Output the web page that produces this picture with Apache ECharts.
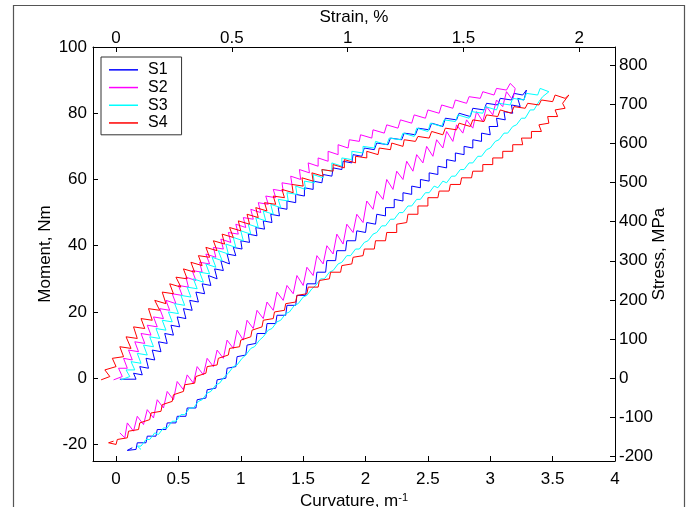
<!DOCTYPE html>
<html>
<head>
<meta charset="utf-8">
<script src="https://cdn.jsdelivr.net/npm/echarts@6/dist/echarts.min.js"></script>
<style>
html,body{margin:0;padding:0;background:#fff;}
#chart{width:688px;height:507px;}
</style>
</head>
<body>
<div id="chart"></div>
<script>
// ---- data ----
const seriesNames = ['S1', 'S2', 'S3', 'S4'];
const seriesColors = ['#0000ff', '#ff00ff', '#00ffff', '#ff0000'];

const curvatureTicks = [0, 0.5, 1, 1.5, 2, 2.5, 3, 3.5, 4];
const strainTicks = [0, 0.5, 1, 1.5, 2];
const momentTicks = [-20, 0, 20, 40, 60, 80, 100];
const stressTicks = [-200, -100, 0, 100, 200, 300, 400, 500, 600, 700, 800];

const curvatureRange = [-0.185, 4];
const momentRange = [-25, 100];
const strainPerCurvature = 0.5386;
const stressPerMoment = 8.46;

// S1 (blue): loading branch, then unloading branch  [curvature, moment]
const s1Upper = [[0.03,-0.3],[0.16,-0.3],[0.14,1.5],[0.21,1],[0.19,3.5],[0.26,3],[0.24,6],[0.31,5.5],[0.29,8.5],[0.36,8],[0.34,11],[0.41,10.5],[0.39,13.5],[0.46,13],[0.44,16],[0.51,15.5],[0.49,18.5],[0.56,18],[0.54,21],[0.61,20.5],[0.59,23.5],[0.66,23],[0.64,26],[0.71,25.5],[0.69,28.5],[0.76,28],[0.74,31],[0.81,30],[0.79,33],[0.86,32.5],[0.84,35.5],[0.91,34.5],[0.89,37.5],[0.96,37],[0.94,39.5],[1.01,39],[1.0,41.5],[1.07,41],[1.06,43.5],[1.13,43],[1.12,45.5],[1.19,45],[1.18,47.5],[1.25,47],[1.24,49.5],[1.31,49],[1.3,51.5],[1.37,51],[1.37,53.5],[1.44,53],[1.44,55.5],[1.51,55],[1.51,57.5],[1.58,57],[1.58,59.5],[1.65,59],[1.66,61.5],[1.73,61],[1.74,63.5],[1.81,63],[1.82,65.5],[1.89,65],[1.9,67.5],[1.97,67],[1.99,69.5],[2.07,69],[2.09,71],[2.18,70.5],[2.2,72.5],[2.29,72],[2.31,74],[2.4,73.5],[2.42,75.5],[2.51,75],[2.53,77],[2.62,76],[2.64,78.5],[2.73,78],[2.75,80],[2.84,79],[2.86,81.5],[2.95,81],[2.97,83],[3.06,82.5],[3.08,84.5],[3.17,84],[3.19,86],[3.26,85.5],[3.29,87]];
const s1Lower = [[3.27,84],[3.22,84.5],[3.24,82],[3.17,82.5],[3.18,80],[3.11,80.5],[3.12,78],[3.05,78.5],[3.06,76],[2.99,76],[3.0,73.5],[2.93,74],[2.93,71.5],[2.86,72],[2.86,69.5],[2.79,70],[2.79,67.5],[2.72,68],[2.72,65.5],[2.65,66],[2.65,63.5],[2.58,64],[2.58,61.5],[2.51,62],[2.51,59.5],[2.44,60],[2.44,57.5],[2.37,58],[2.37,55.5],[2.3,56],[2.3,53.5],[2.23,54],[2.23,51.5],[2.16,51.5],[2.16,49],[2.09,49.5],[2.08,46.5],[2.01,47],[2.0,44],[1.93,44.5],[1.92,41.5],[1.85,41.5],[1.84,38.5],[1.77,38.5],[1.76,35.5],[1.69,35.5],[1.68,32],[1.61,32],[1.6,28.5],[1.53,28.5],[1.52,25],[1.45,25],[1.44,22],[1.37,22],[1.36,19],[1.29,19],[1.28,16.5],[1.21,16.5],[1.2,13.5],[1.13,13.5],[1.12,10.5],[1.05,10],[1.04,7],[0.97,6.5],[0.96,3.5],[0.89,3],[0.88,0],[0.81,-0.5],[0.8,-3],[0.73,-3.5],[0.72,-6],[0.65,-6.5],[0.64,-9],[0.57,-9],[0.56,-11.5],[0.49,-11.5],[0.48,-13.5],[0.41,-13.5],[0.4,-15.5],[0.33,-15.5],[0.32,-17.5],[0.25,-17.5],[0.24,-19.5],[0.17,-19.5],[0.16,-21.5],[0.09,-21.8],[0.13,-21]];

// S2 (magenta)
const s2Upper = [[-0.02,-0.5],[0.05,0.5],[0.02,3],[0.09,3],[0.06,6],[0.13,5.5],[0.1,8.5],[0.18,8],[0.15,11],[0.23,10.5],[0.2,13.5],[0.28,13],[0.25,16],[0.33,15.5],[0.3,18.5],[0.38,18],[0.35,21],[0.43,20.5],[0.4,23.5],[0.48,22.5],[0.45,25.5],[0.53,25],[0.5,28],[0.58,27.5],[0.56,30.5],[0.64,29.5],[0.61,32.5],[0.69,32],[0.67,35],[0.75,34.5],[0.72,37.5],[0.8,36.5],[0.78,39.5],[0.86,39],[0.84,42],[0.92,41],[0.9,44],[0.98,43.5],[0.96,46.5],[1.04,45.5],[1.02,48.5],[1.1,48],[1.08,51],[1.16,50],[1.14,53],[1.22,52.5],[1.2,55],[1.28,54.5],[1.26,57],[1.34,56.5],[1.33,59],[1.41,58.5],[1.4,61],[1.48,60],[1.47,63],[1.55,62],[1.54,65],[1.62,64],[1.62,66.5],[1.7,65.5],[1.7,68.5],[1.78,67.5],[1.78,70.5],[1.86,69.5],[1.87,72],[1.95,71.5],[1.96,73.5],[2.05,72.5],[2.06,75],[2.15,74],[2.17,76.5],[2.26,75.5],[2.28,78],[2.37,77],[2.39,79.5],[2.48,78.5],[2.5,81],[2.59,80],[2.61,82.5],[2.7,81.5],[2.72,84],[2.81,83],[2.83,85],[2.92,84.5],[2.94,86.5],[3.03,85.5],[3.05,87.5],[3.13,87],[3.16,89],[3.2,87.5]];
const s2Lower = [[3.18,84],[3.13,86.5],[3.1,82],[3.05,84],[3.02,79.5],[2.97,82],[2.94,77.5],[2.89,80.5],[2.86,75.5],[2.81,78],[2.78,74],[2.73,76.5],[2.7,71.5],[2.65,74.5],[2.62,69.5],[2.57,72],[2.54,67],[2.49,70],[2.46,65],[2.41,67.5],[2.38,62.5],[2.33,65.5],[2.3,60],[2.25,62.5],[2.22,57],[2.17,60],[2.14,54],[2.09,56.5],[2.06,51],[2.01,53.5],[1.98,47],[1.93,49.5],[1.9,44],[1.85,46.5],[1.82,40.5],[1.77,43.5],[1.74,37.5],[1.69,40],[1.66,34.5],[1.61,37],[1.58,31],[1.53,33.5],[1.5,28],[1.45,31],[1.42,25.5],[1.37,28],[1.34,23.5],[1.29,26],[1.26,20.5],[1.21,23],[1.18,18],[1.13,20.5],[1.1,15],[1.05,17.5],[1.02,11.5],[0.97,14.5],[0.94,9],[0.89,11.5],[0.86,6],[0.81,8.5],[0.78,3.5],[0.73,6],[0.7,1],[0.65,3.5],[0.62,-1.5],[0.57,1],[0.54,-3.5],[0.49,-1],[0.46,-6.5],[0.41,-4],[0.38,-9],[0.33,-6.5],[0.3,-12],[0.25,-9.5],[0.22,-14],[0.17,-11.5],[0.14,-16],[0.09,-13.5],[0.07,-18],[0.03,-16.5]];

// S3 (cyan)
const s3Upper = [[0.04,-0.5],[0.11,0.5],[0.08,2.5],[0.15,2.5],[0.12,5],[0.2,4.5],[0.17,7.5],[0.25,7],[0.22,10],[0.3,9.5],[0.27,12.5],[0.35,12],[0.32,15],[0.4,14.5],[0.37,17.5],[0.45,17],[0.42,20],[0.5,19.5],[0.47,22.5],[0.55,22],[0.52,25],[0.6,24.5],[0.57,27.5],[0.65,27],[0.62,30],[0.7,29],[0.67,32],[0.75,31.5],[0.72,34.5],[0.8,33.5],[0.77,36.5],[0.85,35.5],[0.82,38.5],[0.9,37.5],[0.88,40.5],[0.96,39.5],[0.94,42.5],[1.02,41.5],[1.0,44.5],[1.08,43.5],[1.06,46.5],[1.14,45.5],[1.12,48.5],[1.2,47.5],[1.18,50.5],[1.26,49.5],[1.24,52.5],[1.32,51.5],[1.3,54],[1.38,53.5],[1.37,56],[1.45,55.5],[1.44,58],[1.52,57],[1.51,59.5],[1.59,59],[1.58,61.5],[1.66,60.5],[1.65,63],[1.73,62.5],[1.73,65],[1.81,64],[1.81,66.5],[1.89,66],[1.89,68.5],[1.98,68],[1.98,70],[2.07,69.5],[2.08,71.5],[2.17,70.5],[2.19,72.5],[2.28,72],[2.3,74],[2.39,73],[2.41,75.5],[2.5,74.5],[2.52,77],[2.61,76],[2.63,78],[2.72,77.5],[2.74,79.5],[2.83,78.5],[2.85,80.5],[2.94,80],[2.96,82],[3.05,81],[3.07,83],[3.16,82.5],[3.18,84.5],[3.27,84],[3.29,86],[3.38,85.5],[3.4,87.5],[3.47,86.5]];
const s3Lower = [[3.46,87],[3.42,85],[3.39,83.5],[3.35,81],[3.32,81],[3.28,78.5],[3.25,78.5],[3.21,76.5],[3.18,76],[3.14,74],[3.11,74],[3.07,72],[3.04,71.5],[3.0,69.5],[2.97,69],[2.93,67],[2.9,67],[2.86,65],[2.83,65],[2.79,63],[2.76,63],[2.72,61],[2.69,61],[2.65,59],[2.62,59.5],[2.58,57.5],[2.55,58],[2.51,56],[2.48,56],[2.44,54],[2.41,54],[2.37,52],[2.34,52],[2.3,50],[2.27,50],[2.23,48],[2.2,48],[2.16,46],[2.13,46],[2.09,44],[2.06,43.5],[2.02,41.5],[1.99,41],[1.95,39],[1.92,39],[1.88,37],[1.85,37],[1.81,35],[1.78,34.5],[1.74,32.5],[1.71,32],[1.67,30],[1.64,30],[1.6,28],[1.57,27],[1.53,25],[1.5,24.5],[1.46,22.5],[1.43,22],[1.39,20],[1.36,19.5],[1.32,17.5],[1.29,17],[1.25,15],[1.22,14.5],[1.18,12.5],[1.15,11.5],[1.11,9.5],[1.08,9],[1.04,7],[1.01,6],[0.97,4],[0.94,3.5],[0.9,1.5],[0.87,0.5],[0.83,-1.5],[0.8,-2],[0.76,-4],[0.73,-4.5],[0.69,-6.5],[0.66,-7],[0.62,-9],[0.59,-9],[0.55,-11],[0.52,-11],[0.48,-13],[0.45,-13],[0.41,-15],[0.38,-15],[0.34,-17],[0.31,-16.5],[0.27,-18.5],[0.24,-18.5],[0.2,-20.5],[0.17,-20.5],[0.2,-21.5]];

// S4 (red)
const s4Upper = [[-0.12,-0.5],[-0.05,0.5],[-0.09,2.5],[0.0,3.5],[-0.03,6],[0.06,6.5],[0.03,9.5],[0.12,9],[0.08,12.5],[0.17,12],[0.14,15.5],[0.23,15],[0.2,18],[0.29,17.5],[0.26,21],[0.35,20.5],[0.31,23.5],[0.4,22.5],[0.37,26],[0.46,25.5],[0.43,28.5],[0.52,27.5],[0.48,30.5],[0.57,30],[0.54,33],[0.63,32],[0.6,35],[0.69,34],[0.66,37],[0.75,36.5],[0.72,39.5],[0.81,38.5],[0.78,41.5],[0.87,40.5],[0.85,43.5],[0.94,42.5],[0.91,45.5],[1.0,44.5],[0.98,47.5],[1.07,46.5],[1.05,49.5],[1.14,48.5],[1.12,51.5],[1.21,50.5],[1.19,53],[1.28,52.5],[1.26,55],[1.35,54.5],[1.33,57],[1.42,56],[1.41,58.5],[1.5,58],[1.49,60.5],[1.58,59.5],[1.57,62],[1.66,61],[1.65,63],[1.74,62.5],[1.74,64.5],[1.83,63.5],[1.83,66],[1.92,65],[1.92,67],[2.01,66.5],[2.01,68.5],[2.1,67.5],[2.11,69.5],[2.2,69],[2.21,71],[2.3,70],[2.31,72],[2.4,71.5],[2.42,73],[2.51,72.5],[2.53,74.5],[2.62,73.5],[2.64,75.5],[2.73,75],[2.75,77],[2.84,76],[2.86,78],[2.95,77.5],[2.97,79.5],[3.06,79],[3.08,81],[3.17,80],[3.19,82],[3.28,81.5],[3.3,83],[3.39,82.5],[3.41,84],[3.5,83.5],[3.52,85.5],[3.6,84.5],[3.63,85.5]];
const s4Lower = [[3.58,83],[3.6,81.5],[3.52,81],[3.54,79],[3.46,79],[3.47,77],[3.39,76.5],[3.41,74.5],[3.33,74.5],[3.33,72.5],[3.25,72.5],[3.26,70.5],[3.18,70.5],[3.18,68.5],[3.1,68.5],[3.1,66.5],[3.02,66.5],[3.02,64.5],[2.94,64.5],[2.94,62.5],[2.86,62.5],[2.85,60.5],[2.77,60.5],[2.76,58.5],[2.68,58.5],[2.67,56.5],[2.59,56.5],[2.58,54.5],[2.5,54.5],[2.5,52],[2.42,52],[2.42,49.5],[2.34,49.5],[2.33,47],[2.25,46.5],[2.25,44],[2.17,44],[2.16,41.5],[2.08,41.5],[2.07,39],[1.99,39],[1.98,37],[1.9,36.5],[1.89,34.5],[1.81,34],[1.8,32],[1.72,32],[1.71,30],[1.63,29.5],[1.62,27.5],[1.54,27.5],[1.53,25.5],[1.45,25],[1.44,23],[1.36,22.5],[1.35,20.5],[1.27,20],[1.26,18],[1.18,17.5],[1.17,15.5],[1.09,14.5],[1.08,12.5],[1.0,11.5],[0.99,9.5],[0.91,9],[0.9,7],[0.82,6],[0.81,4],[0.73,3.5],[0.72,1.5],[0.64,0.5],[0.63,-1.5],[0.55,-2],[0.54,-4],[0.46,-5],[0.45,-7],[0.37,-8],[0.36,-10],[0.28,-10.5],[0.27,-12.5],[0.19,-13.5],[0.18,-15.5],[0.1,-16],[0.09,-18],[0.01,-18.5],[0.0,-20],[-0.06,-19.5],[-0.02,-19]];

const loops = [s1Upper.concat(s1Lower), s2Upper.concat(s2Lower), s3Upper.concat(s3Lower), s4Upper.concat(s4Lower)];

// ---- chart ----
const FONT = '"Liberation Sans", Arial, sans-serif';
const chart = echarts.init(document.getElementById('chart'), null, {renderer: 'canvas'});

const axisLineStyle = {color: '#000', width: 1};
const labelStyle = {color: '#000', fontSize: 17, fontFamily: FONT};
const nameStyle = {color: '#000', fontSize: 17, fontFamily: FONT};

chart.setOption({
  animation: false,
  backgroundColor: '#fff',
  grid: {left: 93, right: 73, top: 47, bottom: 46, containLabel: false, outerBoundsMode: 'none'},
  legend: {
    data: seriesNames,
    orient: 'vertical',
    left: 101, top: 57,
    icon: 'rect',
    itemWidth: 29, itemHeight: 1.5, itemGap: 0,
    padding: [4, 14, 3, 8],
    borderColor: '#333', borderWidth: 1,
    backgroundColor: '#fff',
    textStyle: {color: '#000', fontSize: 16, fontFamily: FONT, lineHeight: 17.7, padding: [0, 0, 0, 5]}
  },
  graphic: [{
    type: 'rect', silent: true, z: -10,
    shape: {x: 13.5, y: 5.5, width: 671, height: 520},
    style: {fill: 'none', stroke: '#555', lineWidth: 1.2}
  }],
  xAxis: [{
    type: 'value', position: 'bottom',
    min: curvatureRange[0], max: curvatureRange[1],
    name: '{a|Curvature, m}{b|-1}', nameLocation: 'middle', nameGap: 31, nameMoveOverlap: false,
    nameTextStyle: {
      rich: {
        a: {fontSize: 17, fontFamily: FONT, color: '#000'},
        b: {fontSize: 11, fontFamily: FONT, color: '#000', verticalAlign: 'top', padding: [0, 0, 8, 0]}
      }
    },
    axisLine: {show: true, onZero: false, lineStyle: axisLineStyle},
    axisTick: {show: true, inside: true, length: 5, lineStyle: axisLineStyle, customValues: curvatureTicks},
    axisLabel: {show: true, margin: 10, customValues: curvatureTicks, ...labelStyle},
    splitLine: {show: false}
  }, {
    type: 'value', position: 'top',
    min: curvatureRange[0] * strainPerCurvature, max: curvatureRange[1] * strainPerCurvature,
    name: 'Strain, %', nameLocation: 'middle', nameGap: 21, nameMoveOverlap: false, nameTextStyle: nameStyle,
    axisLine: {show: true, onZero: false, lineStyle: axisLineStyle},
    axisTick: {show: true, inside: true, length: 5, lineStyle: axisLineStyle, customValues: strainTicks},
    axisLabel: {show: true, margin: 0, customValues: strainTicks, ...labelStyle},
    splitLine: {show: false}
  }],
  yAxis: [{
    type: 'value', position: 'left',
    min: momentRange[0], max: momentRange[1],
    name: 'Moment, Nm', nameLocation: 'middle', nameGap: 39, nameRotate: 90, nameMoveOverlap: false, nameTextStyle: nameStyle,
    axisLine: {show: true, onZero: false, lineStyle: axisLineStyle},
    axisTick: {show: true, inside: true, length: 5, lineStyle: axisLineStyle, customValues: momentTicks},
    axisLabel: {show: true, margin: 6, customValues: momentTicks, ...labelStyle},
    splitLine: {show: false}
  }, {
    type: 'value', position: 'right',
    min: momentRange[0] * stressPerMoment, max: momentRange[1] * stressPerMoment,
    name: 'Stress, MPa', nameLocation: 'middle', nameGap: 36, nameRotate: 90, nameMoveOverlap: false, nameTextStyle: nameStyle,
    axisLine: {show: true, onZero: false, lineStyle: axisLineStyle},
    axisTick: {show: true, inside: true, length: 5, lineStyle: axisLineStyle, customValues: stressTicks},
    axisLabel: {show: true, margin: 4, customValues: stressTicks, ...labelStyle},
    splitLine: {show: false}
  }],
  series: seriesNames.map((name, i) => ({
    name: name,
    type: 'line',
    xAxisIndex: 0, yAxisIndex: 0,
    data: loops[i],
    symbol: 'none',
    showSymbol: false,
    smooth: false,
    color: seriesColors[i],
    lineStyle: {color: seriesColors[i], width: 1},
    emphasis: {disabled: true},
    z: 2 + i
  }))
});
</script>
</body>
</html>
